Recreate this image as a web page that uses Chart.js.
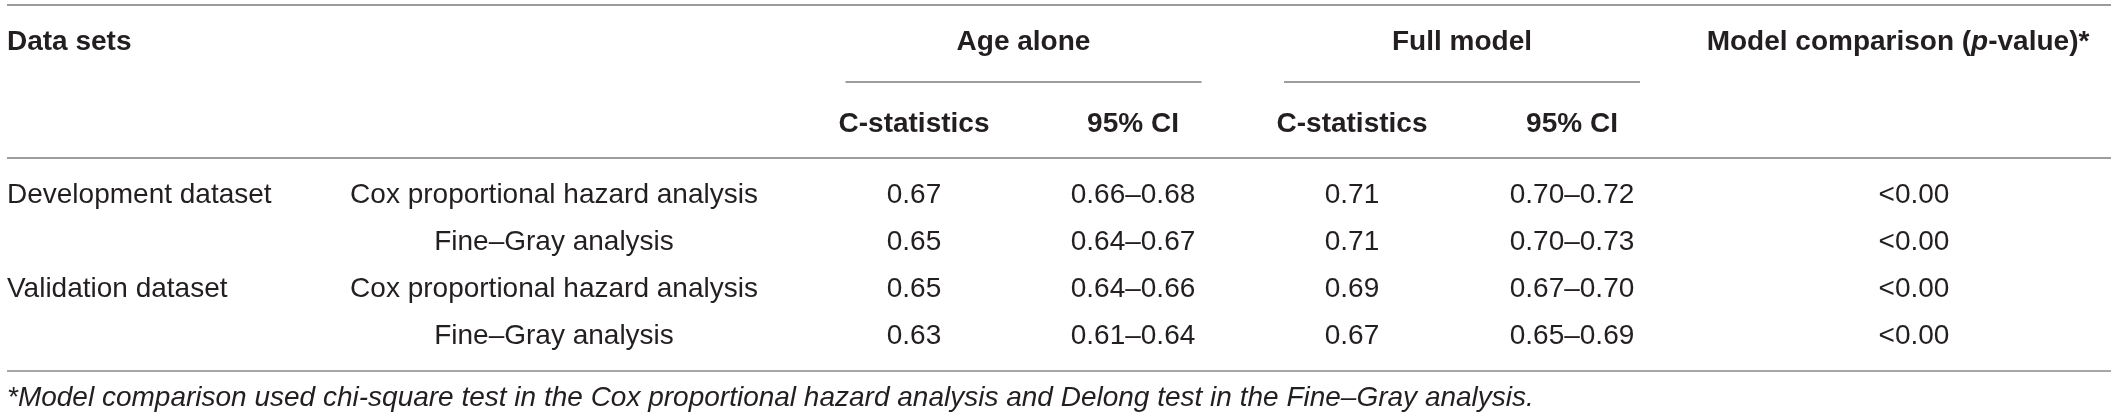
<!DOCTYPE html>
<html>
<head>
<meta charset="utf-8">
<script src="https://cdn.jsdelivr.net/npm/chart.js@4.4.1/dist/chart.umd.min.js"></script>
<style>
html, body { margin: 0; padding: 0; background: #fff; }
#wrap { width: 2118px; height: 420px; position: relative; }
</style>
</head>
<body>
<div id="wrap"><canvas id="tableChart"></canvas></div>
<script>
//table content
var dataSetNames = ['Development dataset', '', 'Validation dataset', ''];
var analysisNames = ['Cox proportional hazard analysis', 'Fine–Gray analysis', 'Cox proportional hazard analysis', 'Fine–Gray analysis'];
var ageC = [0.67, 0.65, 0.65, 0.63];
var ageLow = [0.66, 0.64, 0.64, 0.61];
var ageHigh = [0.68, 0.67, 0.66, 0.64];
var fullC = [0.71, 0.71, 0.69, 0.67];
var fullLow = [0.70, 0.70, 0.67, 0.65];
var fullHigh = [0.72, 0.73, 0.70, 0.69];
var pValues = ['<0.00', '<0.00', '<0.00', '<0.00'];
var groupHeads = ['Age alone', 'Full model'];
var subHeads = ['C-statistics', '95% CI'];
var firstHead = 'Data sets';
var footnote = '*Model comparison used chi-square test in the Cox proportional hazard analysis and Delong test in the Fine–Gray analysis.';

//layout (pixels)
var W = 2118, H = 420;
var LEFT = 7, RIGHT = 2111;
var colSet = 7, colAnalysis = 554, colAgeC = 914, colAgeCI = 1133, colFullC = 1352, colFullCI = 1572, colP = 1914, colPHead = 1898;
var yTopRule = 5, yHead = 42, yGroupRule = 82, ySub = 124, yHeadRule = 158;
var yRow0 = 195, rowStep = 47, yBottomRule = 371, yNote = 398;
var groupRuleHalf = 178;

var TEXT = '#231f20';
var FONT = '"Liberation Sans", Arial, Helvetica, sans-serif';
var bold = '700 28px ' + FONT;
var boldItalic = 'italic 700 28px ' + FONT;
var plain = '400 28px ' + FONT;
var italic = 'italic 400 28px ' + FONT;

function ci(lo, hi) {
    return lo.map(function (v, i) { return v.toFixed(2) + '–' + hi[i].toFixed(2); });
}
function fmt(list) {
    return list.map(function (v) { return v.toFixed(2); });
}
function rowPoints(x, n) {
    var pts = [];
    for (var i = 0; i < n; i++) pts.push({ x: x, y: yRow0 + i * rowStep });
    return pts;
}
function textSet(points, texts, align, font) {
    return { type: 'scatter', data: points, texts: texts, align: align, font: font, pointRadius: 0, pointHoverRadius: 0 };
}
function rule(x1, x2, y, color, width) {
    return { type: 'line', data: [{ x: x1, y: y }, { x: x2, y: y }], borderColor: color, borderWidth: width, pointRadius: 0, fill: false };
}

var datasets = [
    rule(LEFT, RIGHT, yTopRule, '#9b9b9b', 2),
    rule(colAgeC + (colAgeCI - colAgeC) / 2 - groupRuleHalf, colAgeC + (colAgeCI - colAgeC) / 2 + groupRuleHalf, yGroupRule, '#7d7d7d', 1.6),
    rule(colFullC + (colFullCI - colFullC) / 2 - groupRuleHalf, colFullC + (colFullCI - colFullC) / 2 + groupRuleHalf, yGroupRule, '#7d7d7d', 1.6),
    rule(LEFT, RIGHT, yHeadRule, '#7d7d7d', 1.6),
    rule(LEFT, RIGHT, yBottomRule, '#8a8a8a', 1.6),
    //header rows
    textSet([{ x: colSet, y: yHead }], [firstHead], 'left', bold),
    textSet([{ x: (colAgeC + colAgeCI) / 2, y: yHead }, { x: (colFullC + colFullCI) / 2, y: yHead }], groupHeads, 'center', bold),
    textSet([{ x: colPHead, y: yHead }], [[['Model comparison (', bold], ['p', boldItalic], ['-value)*', bold]]], 'center', bold),
    textSet([{ x: colAgeC, y: ySub }, { x: colAgeCI, y: ySub }, { x: colFullC, y: ySub }, { x: colFullCI, y: ySub }],
        subHeads.concat(subHeads), 'center', bold),
    //body
    textSet(rowPoints(colSet, 4), dataSetNames, 'left', plain),
    textSet(rowPoints(colAnalysis, 4), analysisNames, 'center', plain),
    textSet(rowPoints(colAgeC, 4), fmt(ageC), 'center', plain),
    textSet(rowPoints(colAgeCI, 4), ci(ageLow, ageHigh), 'center', plain),
    textSet(rowPoints(colFullC, 4), fmt(fullC), 'center', plain),
    textSet(rowPoints(colFullCI, 4), ci(fullLow, fullHigh), 'center', plain),
    textSet(rowPoints(colP, 4), pValues, 'center', plain),
    //footnote
    textSet([{ x: colSet, y: yNote }], [footnote], 'left', italic)
];

//draw the cell texts at the points placed by the scales
var tableText = {
    id: 'tableText',
    afterDatasetsDraw: function (chart) {
        var ctx = chart.ctx;
        ctx.save();
        ctx.fillStyle = TEXT;
        ctx.textBaseline = 'middle';
        ctx.textAlign = 'left';
        chart.data.datasets.forEach(function (ds, di) {
            if (!ds.texts) return;
            var meta = chart.getDatasetMeta(di);
            meta.data.forEach(function (pt, i) {
                var t = ds.texts[i];
                if (!t) return;
                var parts = Array.isArray(t) ? t : [[t, ds.font]];
                var total = 0;
                parts.forEach(function (p) { ctx.font = p[1]; total += ctx.measureText(p[0]).width; });
                var x = pt.x;
                if (ds.align === 'center') x -= total / 2;
                else if (ds.align === 'right') x -= total;
                parts.forEach(function (p) {
                    ctx.font = p[1];
                    ctx.fillText(p[0], x, pt.y);
                    x += ctx.measureText(p[0]).width;
                });
            });
        });
        ctx.restore();
    }
};

var chart = new Chart(document.getElementById('tableChart').getContext('2d'), {
    type: 'scatter',
    data: { datasets: datasets },
    options: {
        responsive: true,
        maintainAspectRatio: false,
        animation: false,
        layout: { padding: 0 },
        events: [],
        plugins: { legend: { display: false }, tooltip: { enabled: false }, title: { display: false } },
        scales: {
            x: { type: 'linear', min: 0, max: W, display: false },
            y: { type: 'linear', min: 0, max: H, reverse: true, display: false }
        }
    },
    plugins: [tableText]
});
</script>
</body>
</html>
